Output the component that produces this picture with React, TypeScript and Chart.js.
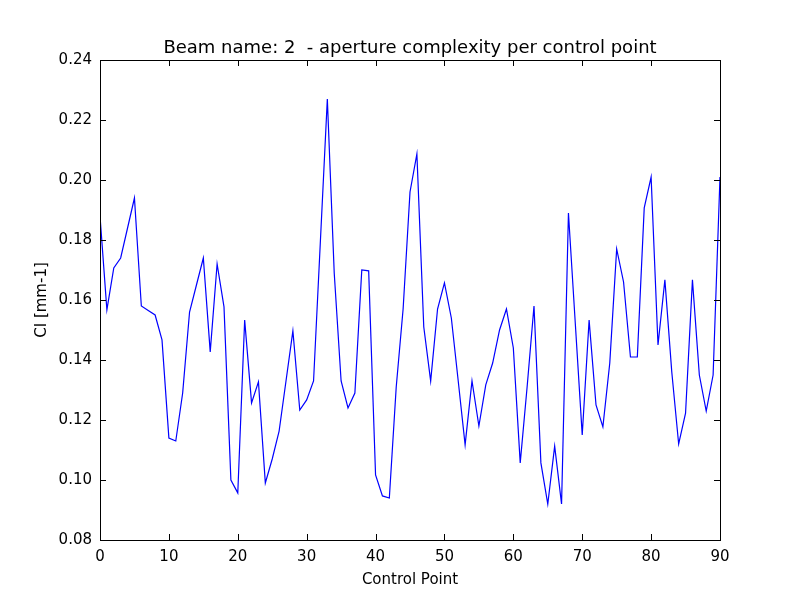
import { useEffect, useRef } from "react"
import { Chart, registerables } from "chart.js"

Chart.register(...registerables)

// CI per control point (control points 0..90)
const ciValues = [
  0.188, 0.1567, 0.1707, 0.174, 0.184, 0.194, 0.158, 0.1565, 0.155, 0.1467,
  0.114, 0.113, 0.129, 0.156, 0.165, 0.174, 0.1427, 0.172, 0.1577, 0.1,
  0.0957, 0.1533, 0.1257, 0.1327, 0.099, 0.107, 0.1163, 0.133, 0.1497, 0.1233,
  0.1267, 0.133, 0.18, 0.227, 0.169, 0.133, 0.124, 0.129, 0.17, 0.1697,
  0.1017, 0.0947, 0.094, 0.131, 0.157, 0.196, 0.2087, 0.151, 0.133, 0.157,
  0.1657, 0.154, 0.133, 0.1117, 0.133, 0.118, 0.1317, 0.139, 0.15, 0.157,
  0.144, 0.1057, 0.131, 0.158, 0.1057, 0.092, 0.1113, 0.092, 0.189, 0.152,
  0.115, 0.1533, 0.125, 0.1177, 0.139, 0.177, 0.166, 0.141, 0.141, 0.1907,
  0.201, 0.145, 0.1667, 0.136, 0.112, 0.1223, 0.1667, 0.135, 0.123, 0.135,
  0.201,
]
const controlPoints = ciValues.map((_, i) => i)

const titleText = "Beam name: 2  - aperture complexity per control point"
const xLabel = "Control Point"
const yLabel = "CI [mm-1]"
const FONT = "'DejaVu Sans', sans-serif"

// frame, inward ticks and text, matplotlib classic style
const framePlugin = {
  id: "frame",
  afterDraw(chart: Chart) {
    const { ctx, chartArea: a } = chart
    const xs = chart.scales.x
    const ys = chart.scales.y
    ctx.save()
    ctx.strokeStyle = "#000"
    ctx.lineWidth = 1
    ctx.strokeRect(a.left + 0.5, a.top + 0.5, a.right - a.left, a.bottom - a.top)
    ctx.beginPath()
    for (let v = 0; v <= 90; v += 10) {
      const px = Math.round(xs.getPixelForValue(v)) + 0.5
      ctx.moveTo(px, a.bottom); ctx.lineTo(px, a.bottom - 6)
      ctx.moveTo(px, a.top); ctx.lineTo(px, a.top + 6)
    }
    for (let v = 0.08; v <= 0.2401; v += 0.02) {
      const py = Math.round(ys.getPixelForValue(v)) + 0.5
      ctx.moveTo(a.left, py); ctx.lineTo(a.left + 6, py)
      ctx.moveTo(a.right, py); ctx.lineTo(a.right - 6, py)
    }
    ctx.stroke()
    ctx.fillStyle = "#000"
    ctx.textAlign = "center"
    ctx.textBaseline = "alphabetic"
    ctx.font = `18px ${FONT}`
    ctx.fillText(titleText, (a.left + a.right) / 2, 53)
    ctx.font = `15px ${FONT}`
    ctx.fillText(xLabel, (a.left + a.right) / 2, 584)
    ctx.translate(46, (a.top + a.bottom) / 2)
    ctx.rotate(-Math.PI / 2)
    ctx.fillText(yLabel, 0, 0)
    ctx.restore()
  },
}

export default function App() {
  const canvasRef = useRef<HTMLCanvasElement>(null)

  useEffect(() => {
    document.body.style.margin = "0"
    if (!canvasRef.current) return
    const chart = new Chart(canvasRef.current, {
      type: "line",
      data: {
        labels: controlPoints,
        datasets: [
          {
            data: controlPoints.map((x, i) => ({ x, y: ciValues[i] })),
            borderColor: "#0000ff",
            borderWidth: 1.2,
            pointRadius: 0,
            tension: 0,
            fill: false,
          },
        ],
      },
      options: {
        animation: false,
        responsive: false,
        devicePixelRatio: 1,
        layout: { padding: { left: 0, right: 80, top: 60, bottom: 0 } },
        plugins: { legend: { display: false }, tooltip: { enabled: false } },
        scales: {
          x: {
            type: "linear",
            min: 0,
            max: 90,
            afterFit: (s: any) => { s.height = 60 },
            grid: { display: false, drawTicks: false },
            border: { display: false },
            ticks: { stepSize: 10, color: "#000", padding: 8, font: { family: FONT, size: 15 } },
          },
          y: {
            min: 0.08,
            max: 0.24,
            afterFit: (s: any) => { s.width = 100 },
            grid: { display: false, drawTicks: false },
            border: { display: false },
            ticks: {
              stepSize: 0.02,
              color: "#000",
              padding: 8,
              font: { family: FONT, size: 15 },
              callback: (v: any) => Number(v).toFixed(2),
            },
          },
        },
      },
      plugins: [framePlugin],
    })
    return () => chart.destroy()
  }, [])

  return <canvas ref={canvasRef} width={800} height={600} />
}
